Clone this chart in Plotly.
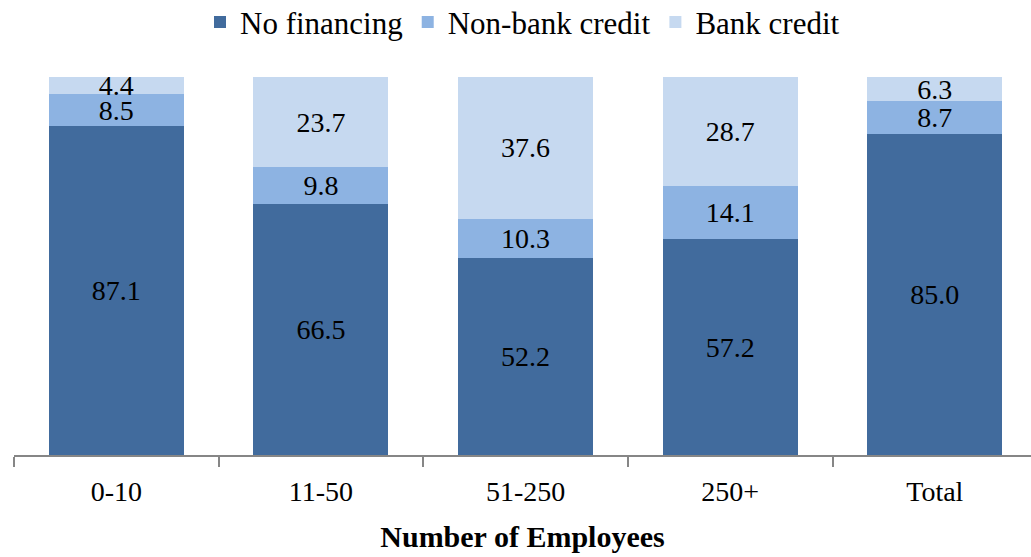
import plotly.graph_objects as go

categories = ["0-10", "11-50", "51-250", "250+", "Total"]
no_financing = [87.1, 66.5, 52.2, 57.2, 85.0]
non_bank_credit = [8.5, 9.8, 10.3, 14.1, 8.7]
bank_credit = [4.4, 23.7, 37.6, 28.7, 6.3]

series = [
    ("No financing", no_financing, "#416B9D"),
    ("Non-bank credit", non_bank_credit, "#8DB3E2"),
    ("Bank credit", bank_credit, "#C6D9F0"),
]

font_family = "Liberation Serif"

fig = go.Figure()
for name, values, color in series:
    fig.add_trace(
        go.Bar(
            x=categories,
            y=values,
            name=name,
            marker=dict(color=color, line=dict(width=0)),
            text=[f"{v:.1f}" for v in values],
            textposition="inside",
            insidetextanchor="middle",
            textfont=dict(family=font_family, size=28, color="black"),
            constraintext="none",
            cliponaxis=False,
        )
    )

fig.update_layout(
    barmode="stack",
    bargap=0.34,
    width=1031,
    height=557,
    margin=dict(l=14, r=0, t=77, b=102),
    plot_bgcolor="white",
    paper_bgcolor="white",
    font=dict(family=font_family, color="black"),
    uniformtext=dict(mode="show", minsize=28),
    legend=dict(
        orientation="h",
        x=0.5,
        xanchor="center",
        yref="container",
        y=0.96,
        yanchor="middle",
        font=dict(size=31),
        traceorder="normal",
        itemwidth=30,
    ),
    xaxis=dict(
        range=[-0.5, 4.47],
        showline=True,
        linecolor="#868686",
        linewidth=2,
        ticks="outside",
        tickson="boundaries",
        tickcolor="#868686",
        tickwidth=2,
        ticklen=10,
        ticklabelstandoff=10,
        tickfont=dict(size=28),
        title=dict(text="<b>Number of Employees</b>", font=dict(size=30), standoff=20),
    ),
    yaxis=dict(
        range=[0, 100.1],
        visible=False,
        showgrid=False,
    ),
)

fig.write_html(
    "out.html",
    config={"displayModeBar": False},
    post_script="document.body.style.margin='0';",
)
